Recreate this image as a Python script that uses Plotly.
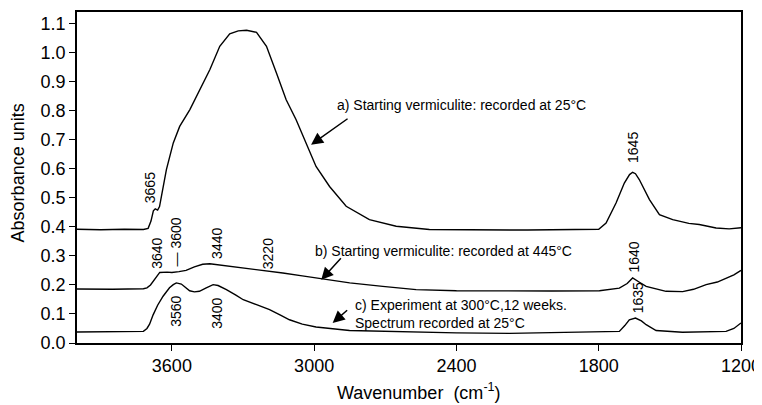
import plotly.graph_objects as go

# ---- data ----
wn_a = [4000, 3900, 3800, 3720, 3700, 3688, 3678, 3670, 3660, 3652, 3644, 3623, 3594, 3567,
        3524, 3482, 3440, 3398, 3356, 3320, 3285, 3243, 3201, 3159, 3118, 3076, 3034, 2992,
        2935, 2865, 2767, 2654, 2514, 2300, 2100, 1900, 1800, 1769, 1727, 1692, 1670, 1657,
        1645, 1629, 1586, 1544, 1488, 1420, 1376, 1305, 1250, 1200]
abs_a = [0.392, 0.390, 0.392, 0.391, 0.395, 0.420, 0.455, 0.462, 0.458, 0.470, 0.505, 0.597,
         0.689, 0.746, 0.804, 0.873, 0.941, 1.022, 1.065, 1.075, 1.077, 1.070, 1.022, 0.930,
         0.838, 0.769, 0.689, 0.608, 0.539, 0.471, 0.425, 0.402, 0.391, 0.389, 0.389, 0.391,
         0.392, 0.413, 0.482, 0.551, 0.580, 0.588, 0.583, 0.563, 0.494, 0.442, 0.425, 0.412,
         0.408, 0.396, 0.393, 0.397]

wn_b = [4000, 3850, 3720, 3705, 3690, 3665, 3651, 3620, 3600, 3570, 3540, 3505, 3470, 3440,
        3410, 3370, 3300, 3243, 3132, 3050, 2964, 2850, 2711, 2570, 2400, 2176, 2000, 1797,
        1713, 1680, 1657, 1630, 1600, 1516, 1446, 1400, 1347, 1300, 1263, 1230, 1200]
abs_b = [0.186, 0.185, 0.187, 0.190, 0.200, 0.225, 0.243, 0.244, 0.243, 0.246, 0.250, 0.262,
         0.271, 0.273, 0.270, 0.265, 0.258, 0.254, 0.241, 0.231, 0.220, 0.207, 0.195, 0.184,
         0.180, 0.178, 0.179, 0.180, 0.189, 0.205, 0.224, 0.210, 0.195, 0.178, 0.177, 0.185,
         0.201, 0.210, 0.224, 0.235, 0.250]

wn_c = [4000, 3850, 3720, 3705, 3694, 3679, 3660, 3637, 3610, 3594, 3581, 3560, 3547, 3525,
        3505, 3484, 3455, 3426, 3405, 3370, 3330, 3299, 3243, 3188, 3140, 3104, 3050, 2992,
        2851, 2700, 2570, 2400, 2176, 2000, 1800, 1713, 1690, 1671, 1645, 1620, 1600, 1558,
        1447, 1300, 1263, 1230, 1200]
abs_c = [0.038, 0.040, 0.040, 0.050, 0.065, 0.097, 0.130, 0.161, 0.190, 0.201, 0.207, 0.203,
         0.195, 0.180, 0.176, 0.178, 0.190, 0.201, 0.198, 0.184, 0.165, 0.149, 0.132, 0.115,
         0.095, 0.080, 0.065, 0.055, 0.043, 0.040, 0.037, 0.035, 0.033, 0.035, 0.037, 0.040,
         0.060, 0.080, 0.086, 0.076, 0.063, 0.043, 0.037, 0.038, 0.040, 0.050, 0.069]

x_ticks = [3600, 3000, 2400, 1800, 1200]
y_ticks = [0.0, 0.1, 0.2, 0.3, 0.4, 0.5, 0.6, 0.7, 0.8, 0.9, 1.0, 1.1]

# peak labels: (text, wavenumber, absorbance position)
peak_labels = [("3665", 3694, 0.535), ("1645", 1658, 0.673), ("3640", 3666, 0.308),
               ("\u2014 3600", 3582, 0.347), ("3440", 3413, 0.342), ("3220", 3196, 0.308),
               ("3560", 3582, 0.108), ("3400", 3413, 0.101), ("1640", 1649, 0.296),
               ("1635", 1636, 0.156)]

# series captions: (text, wavenumber of left edge, absorbance)
captions = [("a) Starting vermiculite: recorded at 25\u00b0C", 2910, 0.821),
            ("b) Starting vermiculite: recorded at 445\u00b0C", 3006, 0.316),
            ("c) Experiment at 300\u00b0C,12 weeks.<br>Spectrum recorded at 25\u00b0C", 2837, 0.101)]

# arrows: (head wavenumber, head absorbance, tail dx px, tail dy px)
arrows = [(3013, 0.683, 38, -27), (2970, 0.218, 21, -23), (2922, 0.069, 16, -14)]

FONT = "Arial, Liberation Sans, sans-serif"

fig = go.Figure()
for wn, ab in [(wn_a, abs_a), (wn_b, abs_b), (wn_c, abs_c)]:
    fig.add_trace(go.Scatter(x=wn, y=ab, mode="lines",
                             line=dict(color="black", width=1.4), showlegend=False))

ann = []
for t, x, y in peak_labels:
    ann.append(dict(text=t, x=x, y=y, xref="x", yref="y", showarrow=False, textangle=-90,
                    font=dict(size=14, color="black", family=FONT)))
for t, x, y in captions:
    ann.append(dict(text=t, x=x, y=y, xref="x", yref="y", showarrow=False, xanchor="left",
                    align="left", font=dict(size=14, color="black", family=FONT)))
for x, y, dx, dy in arrows:
    ann.append(dict(text="", x=x, y=y, xref="x", yref="y", ax=dx, ay=dy, showarrow=True,
                    arrowhead=2, arrowsize=1.6, arrowwidth=1.5, arrowcolor="black"))

ann.append(dict(text="Wavenumber  (cm<sup>-1</sup>)", x=0.515, y=0, xref="paper", yref="paper",
                yanchor="middle", yshift=-48, showarrow=False,
                font=dict(size=18, color="black", family=FONT)))
ann.append(dict(text="Absorbance units", x=-0.089, y=0.5, xref="paper", yref="paper",
                xanchor="center", yanchor="middle", yshift=5, textangle=-90, showarrow=False,
                font=dict(size=18, color="black", family=FONT)))

# the page body adds an 8 px offset at the top-left, so the figure is 8 px smaller
fig.update_layout(
    width=754, height=397,
    margin=dict(l=69, r=21, t=4, b=62),
    paper_bgcolor="white", plot_bgcolor="white",
    annotations=ann,
    xaxis=dict(range=[4000, 1200], tickvals=x_ticks, ticks="outside", ticklen=6,
               tickcolor="black", showline=True, linecolor="black", linewidth=1.5,
               mirror=True, showgrid=False, zeroline=False, automargin=False,
               tickfont=dict(size=18, color="black", family=FONT)),
    yaxis=dict(range=[0, 1.14], tickvals=y_ticks, tickformat=".1f", ticks="outside",
               ticklen=6, tickcolor="black", showline=True, linecolor="black",
               linewidth=1.5, mirror=True, showgrid=False, zeroline=False,
               automargin=False, tickfont=dict(size=18, color="black", family=FONT)),
)

fig.write_html(
    "out.html",
    post_script="document.documentElement.style.overflow='hidden';"
                "document.body.style.overflow='hidden';",
)
